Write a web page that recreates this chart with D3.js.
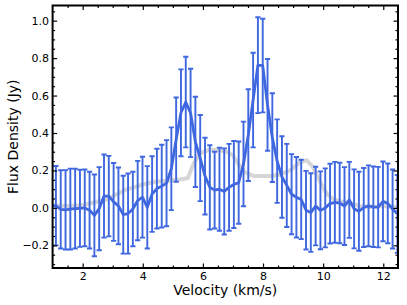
<!DOCTYPE html>
<html>
<head>
<meta charset="utf-8">
<script src="https://cdn.jsdelivr.net/npm/d3@7"></script>
<style>
  body { margin: 0; background: #fff; }
  svg { display: block; font-family: "DejaVu Sans", sans-serif; }
</style>
</head>
<body>
<script>
var width = 407;
var height = 305;

// observed spectrum, channel centres (km/s)
var velocity = [0.95, 1.11, 1.27, 1.43, 1.59, 1.75, 1.91, 2.07, 2.23, 2.39,
                2.55, 2.71, 2.87, 3.03, 3.19, 3.35, 3.51, 3.67, 3.83, 3.99,
                4.15, 4.31, 4.47, 4.63, 4.79, 4.95, 5.11, 5.27, 5.43, 5.59,
                5.75, 5.91, 6.07, 6.23, 6.39, 6.55, 6.71, 6.87, 7.03, 7.19,
                7.35, 7.51, 7.67, 7.83, 7.99, 8.15, 8.31, 8.47, 8.63, 8.79,
                8.95, 9.11, 9.27, 9.43, 9.59, 9.75, 9.91, 10.07, 10.23, 10.39,
                10.55, 10.71, 10.87, 11.03, 11.19, 11.35, 11.51, 11.67, 11.83, 11.99,
                12.15, 12.31, 12.47];
var flux = [0.010, 0.012, -0.008, -0.010, -0.006, -0.004, -0.002, 0.000, -0.012, -0.040,
            -0.004, 0.063, 0.063, 0.032, 0.011, -0.036, -0.030, -0.006, 0.039, 0.057,
            0.003, 0.074, 0.103, 0.116, 0.132, 0.209, 0.365, 0.508, 0.565, 0.507,
            0.353, 0.266, 0.170, 0.110, 0.095, 0.100, 0.088, 0.110, 0.125, 0.135,
            0.235, 0.389, 0.576, 0.762, 0.760, 0.550, 0.375, 0.250, 0.165, 0.120,
            0.073, 0.057, 0.045, -0.012, -0.025, 0.010, -0.013, 0.000, 0.023, 0.030,
            0.026, 0.010, 0.043, -0.005, -0.018, 0.002, 0.011, 0.006, 0.004, 0.035,
            0.024, -0.006, -0.032];
var fluxErr = [0.212, 0.212, 0.209, 0.212, 0.216, 0.213, 0.206, 0.205, 0.205, 0.218,
               0.222, 0.222, 0.215, 0.208, 0.205, 0.208, 0.214, 0.199, 0.212, 0.216,
               0.220, 0.202, 0.213, 0.221, 0.230, 0.221, 0.225, 0.232, 0.242, 0.236,
               0.241, 0.230, 0.205, 0.225, 0.205, 0.222, 0.230, 0.232, 0.232, 0.220,
               0.226, 0.245, 0.253, 0.256, 0.250, 0.245, 0.237, 0.223, 0.218, 0.222,
               0.214, 0.215, 0.212, 0.210, 0.210, 0.210, 0.208, 0.211, 0.213, 0.216,
               0.215, 0.208, 0.203, 0.211, 0.211, 0.211, 0.216, 0.215, 0.215, 0.213,
               0.213, 0.211, 0.208];

// grey comparison profile
var greyVelocity = [0.95, 1.5, 2.0, 2.4, 2.8, 3.1, 3.4, 3.7, 4.0, 4.4,
                    4.8, 5.2, 5.5, 5.7, 5.9, 6.2, 6.5, 6.8, 7.0, 7.2,
                    7.4, 7.7, 8.0, 8.3, 8.6, 8.9, 9.2, 9.45, 9.65, 9.9,
                    10.1, 10.3, 10.6, 10.9, 11.2, 11.6, 12.0, 12.47];
var greyFlux = [0.015, 0.010, 0.015, 0.030, 0.045, 0.070, 0.095, 0.110, 0.125, 0.140,
                0.145, 0.150, 0.160, 0.240, 0.290, 0.310, 0.310, 0.300, 0.280, 0.230,
                0.190, 0.170, 0.170, 0.170, 0.180, 0.200, 0.240, 0.255, 0.220, 0.140,
                0.080, 0.050, 0.035, 0.025, 0.010, 0.005, 0.010, 0.005];

var xTicks = [2, 4, 6, 8, 10, 12];
var yTicks = [-0.2, 0.0, 0.2, 0.4, 0.6, 0.8, 1.0];

var blue = "#3f67e0";

var svg = d3.select("body")
    .append("svg")
    .attr("width", width)
    .attr("height", height);

var x = d3.scaleLinear().domain([1.0, 12.49]).range([52.6, 398]);
var y = d3.scaleLinear().domain([-0.321, 1.081]).range([268, 5.5]);

svg.append("clipPath")
    .attr("id", "plotClip")
  .append("rect")
    .attr("x", x.range()[0])
    .attr("y", y.range()[1])
    .attr("width", x.range()[1] - x.range()[0])
    .attr("height", y.range()[0] - y.range()[1]);

var plot = svg.append("g").attr("clip-path", "url(#plotClip)");

var greyPoints = greyVelocity.map(function(v, i) { return [v, greyFlux[i]]; });
var points = velocity.map(function(v, i) { return [v, flux[i], fluxErr[i]]; });

var line = d3.line()
    .x(function(d) { return x(d[0]); })
    .y(function(d) { return y(d[1]); });

plot.append("path")
    .datum(greyPoints)
    .attr("d", line)
    .attr("fill", "none")
    .attr("stroke", "#d6d6d6")
    .attr("stroke-width", 4)
    .attr("stroke-linejoin", "round");

var bars = plot.append("g")
    .attr("stroke", blue)
    .attr("stroke-width", 1.9)
    .selectAll("g")
    .data(points)
    .enter().append("g");

bars.append("line")
    .attr("x1", function(d) { return x(d[0]); })
    .attr("x2", function(d) { return x(d[0]); })
    .attr("y1", function(d) { return y(d[1] - d[2]); })
    .attr("y2", function(d) { return y(d[1] + d[2]); });

[-1, 1].forEach(function(s) {
    bars.append("line")
        .attr("x1", function(d) { return x(d[0]) - 2.6; })
        .attr("x2", function(d) { return x(d[0]) + 2.6; })
        .attr("y1", function(d) { return y(d[1] + s * d[2]); })
        .attr("y2", function(d) { return y(d[1] + s * d[2]); });
});

plot.append("path")
    .datum(points)
    .attr("d", line)
    .attr("fill", "none")
    .attr("stroke", blue)
    .attr("stroke-width", 2.8)
    .attr("stroke-linejoin", "round");

// frame ticks, inward, on all four sides
var xMinor = d3.range(1.5, 12.5, 0.5).filter(function(v) { return v % 2 !== 0; });
var yMinor = d3.range(-0.3, 1.08, 0.05).filter(function(v) {
    return Math.abs(v * 5 - Math.round(v * 5)) > 0.01;
});

function drawAxis(axisFn, scale, major, minor, labels, tx, ty) {
    var g = svg.append("g").attr("transform", "translate(" + tx + "," + ty + ")");
    g.call(axisFn(scale).tickValues(minor).tickSize(-2.5).tickFormat(""));
    var g2 = svg.append("g").attr("transform", "translate(" + tx + "," + ty + ")");
    var ax = axisFn(scale).tickValues(major).tickSize(-4.5).tickPadding(labels ? 4 : 0);
    ax.tickFormat(labels ? labels : "");
    g2.call(ax);
    [g, g2].forEach(function(sel) {
        sel.select(".domain").remove();
        sel.selectAll(".tick line").attr("stroke", "#000").attr("stroke-width", 1.2);
        sel.selectAll("text")
            .attr("fill", "#000")
            .style("font-size", "11px")
            .style("font-family", "'DejaVu Sans', sans-serif");
    });
    return g2;
}

drawAxis(d3.axisBottom, x, xTicks, xMinor, d3.format("d"), 0, y.range()[0]);
drawAxis(d3.axisTop, x, xTicks, xMinor, null, 0, y.range()[1]);
var yAxis = drawAxis(d3.axisLeft, y, yTicks, yMinor, d3.format(".1f"), x.range()[0], 0);
yAxis.selectAll("text").attr("x", -3.5);
drawAxis(d3.axisRight, y, yTicks, yMinor, null, x.range()[1], 0);

svg.append("rect")
    .attr("x", x.range()[0])
    .attr("y", y.range()[1])
    .attr("width", x.range()[1] - x.range()[0])
    .attr("height", y.range()[0] - y.range()[1])
    .attr("fill", "none")
    .attr("stroke", "#000")
    .attr("stroke-width", 2);

svg.append("text")
    .attr("x", (x.range()[0] + x.range()[1]) / 2)
    .attr("y", 295)
    .attr("text-anchor", "middle")
    .attr("fill", "#000")
    .style("font-size", "14px")
    .text("Velocity (km/s)");

svg.append("text")
    .attr("transform", "translate(18," + (y.range()[0] + y.range()[1]) / 2 + ") rotate(-90)")
    .attr("text-anchor", "middle")
    .attr("fill", "#000")
    .style("font-size", "14px")
    .text("Flux Density (Jy)");
</script>
</body>
</html>
